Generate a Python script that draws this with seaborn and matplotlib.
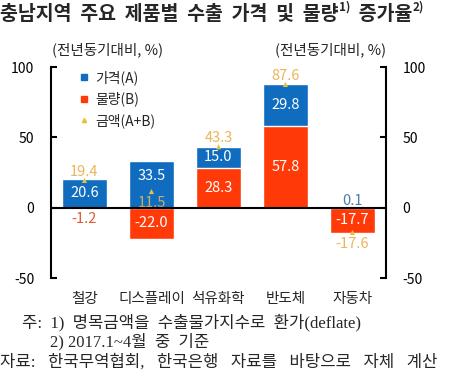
import numpy as np
import pandas as pd
import seaborn as sns
import matplotlib.pyplot as plt
from matplotlib.lines import Line2D

categories = ['철강', '디스플레이', '석유화학', '반도체', '자동차']
price = [20.6, 33.5, 15.0, 29.8, 0.1]       # 가격(A)
volume = [-1.2, -22.0, 28.3, 57.8, -17.7]   # 물량(B)
amount = [19.4, 11.5, 43.3, 87.6, -17.6]    # 금액(A+B)

sns.set_style('white')
plt.rcParams['font.family'] = ['Noto Sans CJK KR', 'DejaVu Sans']
plt.rcParams['axes.unicode_minus'] = False

blue = '#0F6CBF'
red = '#FF3A08'
gold = '#EDB458'

df = pd.DataFrame({'cat': categories, 'A': price, 'B': volume, 'AB': amount})
# 파란 막대는 양(+)의 물량 위에 쌓임 -> 전체 높이로 먼저 그리고 빨간 막대를 덮어씀
df['top'] = df['A'] + df['B'].clip(lower=0)

fig = plt.figure(figsize=(4.5, 3.76), dpi=100)
ax = fig.add_axes([0.1133, 0.2606, 0.7444, 0.5612])

sns.barplot(data=df, x='cat', y='top', color=blue, width=0.67, saturation=1,
            errorbar=None, ax=ax)
sns.barplot(data=df, x='cat', y='B', color=red, width=0.67, saturation=1,
            errorbar=None, ax=ax)
sns.scatterplot(x=np.arange(len(categories)), y=df['AB'], marker='^', s=14,
                color='#E8C040', edgecolor='none', ax=ax, zorder=5)

ax.axhline(0, color='black', lw=1.5, zorder=6)
ax.set_xlim(-0.5, len(categories) - 0.5)
ax.set_ylim(-50, 100)
ax.set_yticks([-50, 0, 50, 100])
ax.set_xlabel('')
ax.set_ylabel('')
for s in ['top', 'bottom']:
    ax.spines[s].set_visible(False)
for s in ['left', 'right']:
    ax.spines[s].set_visible(True)
    ax.spines[s].set_linewidth(1.5)
    ax.spines[s].set_color('black')
ax.tick_params(axis='y', left=True, right=True, labelleft=True, labelright=True,
               direction='in', length=4, width=1.5, labelsize=10, pad=12,
               colors='black')
ax.tick_params(axis='x', length=0, labelsize=10.5, pad=10)

fs = 10.5
# 값 레이블
for i, row in df.iterrows():
    a, b, t = row['A'], row['B'], row['AB']
    base = max(b, 0)
    if abs(a) >= 3:
        ya = base + a / 2
        if i == 1:
            ya += 6
        ax.text(i, ya, f'{a:.1f}', ha='center', va='center', color='white', fontsize=fs)
    else:
        ax.text(i, a + 5, f'{a:.1f}', ha='center', va='center', color='#4D7BAA', fontsize=fs)
    if abs(b) >= 3:
        ax.text(i, b / 2, f'{b:.1f}', ha='center', va='center', color='white', fontsize=fs)
    else:
        ax.text(i, b - 7, f'{b:.1f}', ha='center', va='center', color='#E05A3A', fontsize=fs)
    if i == 1:
        ax.text(i, t - 8, f'{t:.1f}', ha='center', va='center', color='#C8B068', fontsize=fs)
    elif t >= 0:
        ax.text(i, t + 6, f'{t:.1f}', ha='center', va='center', color=gold, fontsize=fs)
    else:
        ax.text(i, t - 8, f'{t:.1f}', ha='center', va='center', color=gold, fontsize=fs)

handles = [
    Line2D([], [], marker='s', color=blue, ls='none', markersize=5),
    Line2D([], [], marker='s', color=red, ls='none', markersize=5),
    Line2D([], [], marker='^', color='#E8C040', ls='none', markersize=3),
]
ax.legend(handles, ['가격(A)', '물량(B)', '금액(A+B)'], loc='upper left',
          bbox_to_anchor=(0.04, 1.045), frameon=False, fontsize=10,
          labelspacing=0.5, handletextpad=0.3, handlelength=1.0)

fig.text(52 / 450, 1 - 50 / 376, '(전년동기대비, %)', ha='left', va='center', fontsize=10.5)
fig.text(386 / 450, 1 - 50 / 376, '(전년동기대비, %)', ha='right', va='center', fontsize=10.5)

# 제목 (위첨자 포함)
renderer = fig.canvas.get_renderer()
x = 0.0
pieces = [('충남지역  주요  제품별  수출  가격  및  물량', 14, 0), ('1)', 8.5, 0.02),
          ('  증가율', 14, 0), ('2)', 8.5, 0.02)]
for txt, size, dy in pieces:
    t = fig.text(x, 1 - 15 / 376 + dy, txt, ha='left', va='center', fontsize=size,
                 fontweight='bold')
    bb = t.get_window_extent(renderer)
    x += bb.width / fig.bbox.width

note_font = ['Liberation Serif', 'Noto Sans CJK KR']
fig.text(22 / 450, 1 - 323 / 376, '주:  1)  명목금액을  수출물가지수로  환가(deflate)',
         ha='left', va='center', fontsize=12, family=note_font)
fig.text(50 / 450, 1 - 342 / 376, '2) 2017.1~4월  중  기준',
         ha='left', va='center', fontsize=12, family=note_font)
gap = '\u2002 '
fig.text(0.0, 1 - 362 / 376,
         gap.join(['자료:', '한국무역협회,', '한국은행', '자료를', '바탕으로', '자체', '계산']),
         ha='left', va='center', fontsize=12, family=note_font)

fig.savefig('out.png', dpi=100)
